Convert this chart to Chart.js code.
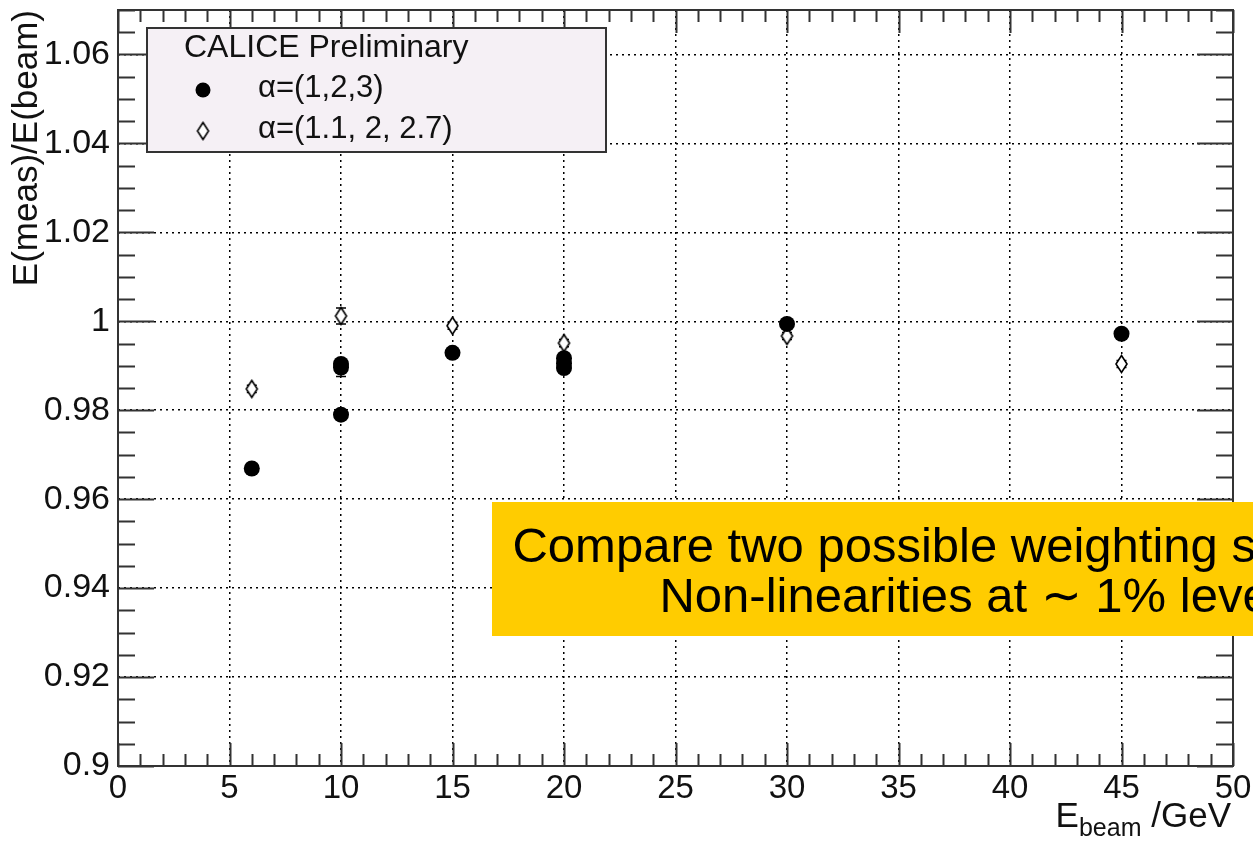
<!DOCTYPE html>
<html>
<head>
<meta charset="utf-8">
<script src="https://cdn.jsdelivr.net/npm/chart.js@4.4.1/dist/chart.umd.min.js"></script>
<style>
html, body { margin: 0; padding: 0; background: #fff; overflow: hidden; }
#wrap { position: relative; width: 1253px; height: 847px; overflow: hidden; }
#note {
    position: absolute; left: 492px; top: 502px; width: 956px; height: 134px; box-sizing: border-box;
    padding: 18px 0 0; background: #ffcc00; color: #000; white-space: nowrap;
    font: 49px/50px "Liberation Sans", Arial, sans-serif; text-align: center;
}
#xtitle {
    position: absolute; right: 22px; top: 795px; color: #111;
    font: 35px "Liberation Sans", Arial, sans-serif; white-space: nowrap;
}
#xtitle sub { font-size: 25px; vertical-align: -9px; }
</style>
</head>
<body>
<div id="wrap">
    <canvas id="chart" width="1253" height="847"></canvas>
    <div id="xtitle">E<sub>beam</sub> /GeV</div>
    <div id="note">Compare two possible weighting schemes<br>Non-linearities at &#8764; 1% level</div>
</div>
<script>
// data
const energyA = [6, 10, 10, 10, 15, 20, 20, 20, 30, 45];
const ratioA  = [0.9669, 0.9790, 0.9904, 0.9896, 0.9929, 0.9917, 0.9905, 0.9895, 0.9994, 0.9972];
const errA    = [0.0008, 0.0008, 0.0008, 0.0020, 0.0008, 0.0008, 0.0008, 0.0008, 0.0008, 0.0008];

const energyB = [6, 10, 15, 20, 30, 45];
const ratioB  = [0.9848, 1.0012, 0.9990, 0.9951, 0.9967, 0.9904];
const errB    = [0.0008, 0.0018, 0.0008, 0.0008, 0.0008, 0.0008];

const legendTitle = 'CALICE Preliminary';
const labelA = '\u03b1=(1,2,3)';
const labelB = '\u03b1=(1.1, 2, 2.7)';

const FONT = '"Liberation Sans", Arial, sans-serif';
const FRAME = '#333';

// open diamond marker
function makeDiamond() {
    const c = document.createElement('canvas');
    c.width = 15; c.height = 20;
    const g = c.getContext('2d');
    g.beginPath();
    g.moveTo(7.5, 1.5);
    g.lineTo(13, 10);
    g.lineTo(7.5, 18.5);
    g.lineTo(2, 10);
    g.closePath();
    g.fillStyle = '#fff';
    g.fill();
    g.lineWidth = 1.6;
    g.strokeStyle = '#000';
    g.stroke();
    return c;
}
const diamond = makeDiamond();

const toPoints = (xs, ys) => xs.map((x, i) => ({ x: x, y: ys[i] }));

// vertical error bars, drawn under the markers
const errorBars = {
    id: 'errorBars',
    beforeDatasetsDraw(chart) {
        const ctx = chart.ctx;
        const xs = chart.scales.x, ys = chart.scales.y;
        const sets = [[energyA, ratioA, errA], [energyB, ratioB, errB]];
        ctx.save();
        ctx.strokeStyle = '#000';
        ctx.lineWidth = 1.5;
        sets.forEach(([ex, ry, er]) => {
            ex.forEach((e, i) => {
                const px = xs.getPixelForValue(e);
                const y1 = ys.getPixelForValue(ry[i] - er[i]);
                const y2 = ys.getPixelForValue(ry[i] + er[i]);
                ctx.beginPath();
                ctx.moveTo(px, y1); ctx.lineTo(px, y2);
                ctx.moveTo(px - 5, y1); ctx.lineTo(px + 5, y1);
                ctx.moveTo(px - 5, y2); ctx.lineTo(px + 5, y2);
                ctx.stroke();
            });
        });
        ctx.restore();
    }
};

// ROOT style frame with inner ticks on all four sides
const frame = {
    id: 'frame',
    afterDatasetsDraw(chart) {
        const ctx = chart.ctx;
        const a = chart.chartArea;
        const xs = chart.scales.x, ys = chart.scales.y;
        ctx.save();
        ctx.strokeStyle = FRAME;
        ctx.lineWidth = 2;
        ctx.beginPath();
        for (let v = 0; v <= 50; v += 1) {
            const px = Math.round(xs.getPixelForValue(v)) + 0.5;
            const len = v % 5 === 0 ? 23 : 12;
            ctx.moveTo(px, a.bottom); ctx.lineTo(px, a.bottom - len);
            ctx.moveTo(px, a.top); ctx.lineTo(px, a.top + len);
        }
        for (let k = 0; k <= 34; k++) {
            const v = 0.9 + k * 0.005;
            const py = Math.round(ys.getPixelForValue(v)) + 0.5;
            const len = k % 4 === 0 ? 36 : 17;
            ctx.moveTo(a.left, py); ctx.lineTo(a.left + len, py);
            ctx.moveTo(a.right, py); ctx.lineTo(a.right - len, py);
        }
        ctx.stroke();
        ctx.strokeRect(a.left, a.top, a.right - a.left, a.bottom - a.top);
        ctx.restore();
    }
};

// legend box in the upper left
const legendBox = {
    id: 'legendBox',
    afterDraw(chart) {
        const ctx = chart.ctx;
        ctx.save();
        ctx.fillStyle = '#f5f0f5';
        ctx.fillRect(147, 28, 459, 124);
        ctx.strokeStyle = FRAME;
        ctx.lineWidth = 2;
        ctx.strokeRect(147, 28, 459, 124);
        ctx.fillStyle = '#111';
        ctx.font = '32px ' + FONT;
        ctx.textBaseline = 'alphabetic';
        ctx.fillText(legendTitle, 184, 57);
        ctx.font = '31px ' + FONT;
        ctx.fillText(labelA, 258, 97);
        ctx.fillText(labelB, 258, 138);
        ctx.fillStyle = '#000';
        ctx.beginPath();
        ctx.arc(203, 90, 7.5, 0, Math.PI * 2);
        ctx.fill();
        ctx.drawImage(diamond, 203 - 7.5, 131 - 10);
        ctx.restore();
    }
};

new Chart(document.getElementById('chart'), {
    type: 'scatter',
    data: {
        datasets: [
            {
                label: labelA,
                data: toPoints(energyA, ratioA),
                pointStyle: 'circle',
                pointRadius: 8,
                pointBackgroundColor: '#000',
                pointBorderColor: '#000',
                pointBorderWidth: 0
            },
            {
                label: labelB,
                data: toPoints(energyB, ratioB),
                pointStyle: diamond,
                pointRadius: 8
            }
        ]
    },
    options: {
        responsive: false,
        animation: false,
        layout: { padding: { left: 0, right: 20, top: 10, bottom: 0 } },
        plugins: { legend: { display: false }, tooltip: { enabled: false } },
        scales: {
            x: {
                type: 'linear',
                min: 0,
                max: 50,
                afterFit: s => {
                    s.height = 81;
                    s.paddingLeft = 0; s.paddingRight = 0;
                },
                ticks: {
                    stepSize: 5,
                    padding: 3,
                    color: '#111',
                    font: { size: 33, family: FONT },
                    maxRotation: 0
                },
                grid: { color: '#000', lineWidth: 1.5, drawTicks: false },
                border: { display: false, dash: [2, 4] }
            },
            y: {
                min: 0.9,
                max: 1.07,
                afterFit: s => {
                    s.width = 118;
                    s.paddingTop = 0; s.paddingBottom = 0;
                },
                ticks: {
                    stepSize: 0.02,
                    includeBounds: false,
                    padding: 8,
                    color: '#111',
                    font: { size: 34, family: FONT },
                    callback: v => String(+v.toFixed(3))
                },
                grid: { color: '#000', lineWidth: 1.5, drawTicks: false },
                border: { display: false, dash: [2, 4] },
                title: {
                    display: true,
                    text: 'E(meas)/E(beam)',
                    align: 'end',
                    color: '#111',
                    font: { size: 35, family: FONT },
                    padding: { top: 6, bottom: 0 }
                }
            }
        }
    },
    plugins: [errorBars, frame, legendBox]
});
</script>
</body>
</html>
